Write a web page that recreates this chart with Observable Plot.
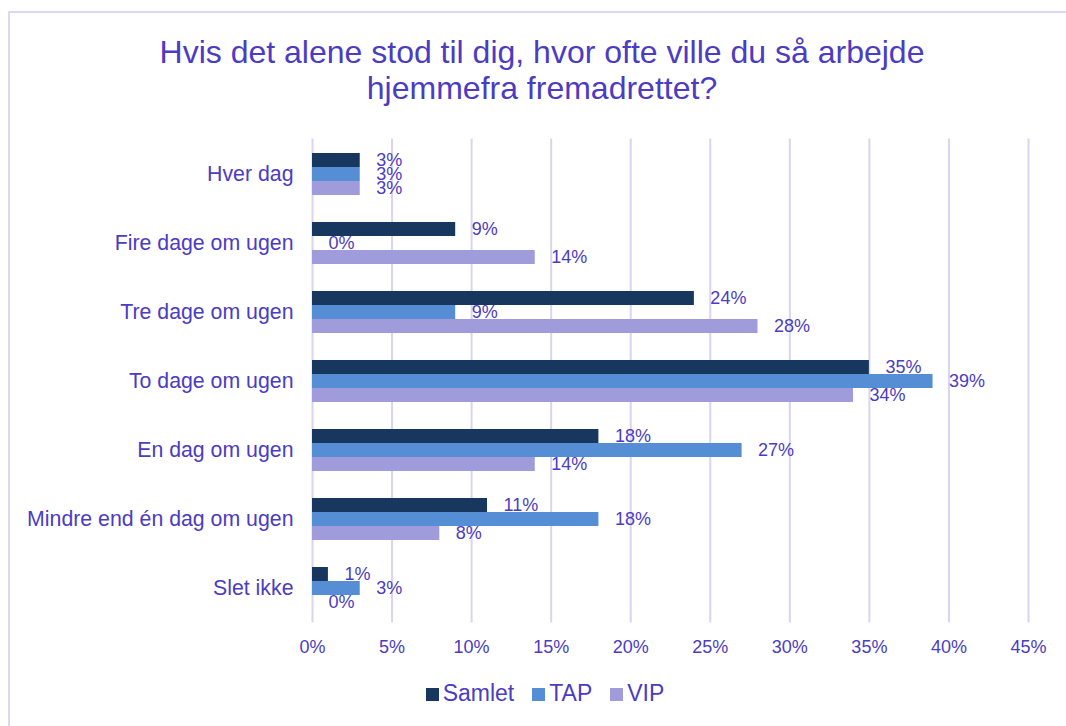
<!DOCTYPE html>
<html>
<head>
<meta charset="utf-8">
<script src="https://cdn.jsdelivr.net/npm/d3@7"></script>
<script src="https://cdn.jsdelivr.net/npm/@observablehq/plot@0.6"></script>
<style>
  html, body { margin: 0; padding: 0; background: #fff; overflow: hidden; }
  #wrap { position: relative; width: 1066px; height: 726px; font-family: "Liberation Sans", Arial, sans-serif; color: #4b3cc3; overflow: hidden; }
  #frame { position: absolute; left: 8px; top: 11px; width: 1200px; height: 900px; border-top: 2px solid #dcd7f3; border-left: 2px solid #dcd7f3; }
  #title { position: absolute; left: 18px; top: 34px; width: 1048px; text-align: center; font-size: 32px; line-height: 36px; }
  #chart { position: absolute; left: 0; top: 110px; }
  #legend { position: absolute; left: 0; top: 682px; width: 1090px; display: flex; justify-content: center; font-size: 23px; line-height: 23px; }
  .item { display: flex; align-items: flex-start; margin: 0 9px; }
  .sw { width: 13px; height: 13px; margin-top: 6px; margin-right: 4px; }
</style>
</head>
<body>
<div id="wrap">
  <div id="frame"></div>
  <div id="title">Hvis det alene stod til dig, hvor ofte ville du så arbejde<br>hjemmefra fremadrettet?</div>
  <div id="chart"></div>
  <div id="legend"></div>
</div>
<script>
const categories = ["Hver dag", "Fire dage om ugen", "Tre dage om ugen", "To dage om ugen", "En dag om ugen", "Mindre end én dag om ugen", "Slet ikke"];
const seriesNames = ["Samlet", "TAP", "VIP"];
const samlet = [3, 9, 24, 35, 18, 11, 1];
const tap = [3, 0, 9, 39, 27, 18, 3];
const vip = [3, 14, 28, 34, 14, 8, 0];
const xTicks = [0, 5, 10, 15, 20, 25, 30, 35, 40, 45];
const colors = ["#17375e", "#558ed5", "#a09bdb"];
const textColor = "#4b3cc3";

const seriesValues = [samlet, tap, vip];
const rows = seriesValues.map(vals => categories.map((c, i) => ({category: c, value: vals[i]})));
const offsets = [-14, 0, 14];

const marks = [
  Plot.gridX(xTicks, {stroke: "#d9d4f1", strokeOpacity: 1, strokeWidth: 2})
];
rows.forEach((data, j) => {
  marks.push(Plot.barX(data, {x: "value", y: "category", fill: colors[j], dy: offsets[j]}));
});
rows.forEach((data, j) => {
  marks.push(Plot.text(data, {x: "value", y: "category", text: d => d.value + "%", dy: offsets[j], dx: 16, textAnchor: "start", fontSize: 18, fill: textColor}));
});
marks.push(Plot.axisY({tickSize: 0, tickPadding: 19, fontSize: 21.3, label: null}));
marks.push(Plot.axisX({ticks: xTicks, tickSize: 0, tickPadding: 17, fontSize: 18, label: null, tickFormat: d => d + "%"}));

const chart = Plot.plot({
  width: 1066,
  height: 560,
  marginTop: 28.4,
  marginBottom: 47.4,
  marginLeft: 312,
  marginRight: 38,
  style: {fontFamily: "'Liberation Sans', Arial, sans-serif", color: textColor, background: "transparent"},
  x: {domain: [0, 45]},
  y: {domain: categories, paddingInner: 0.7976, paddingOuter: 0.3988},
  marks
});
document.getElementById("chart").appendChild(chart);

const legend = document.getElementById("legend");
seriesNames.forEach((name, j) => {
  const item = document.createElement("div");
  item.className = "item";
  const sw = document.createElement("div");
  sw.className = "sw";
  sw.style.background = colors[j];
  const label = document.createElement("span");
  label.textContent = name;
  item.appendChild(sw);
  item.appendChild(label);
  legend.appendChild(item);
});
</script>
</body>
</html>
